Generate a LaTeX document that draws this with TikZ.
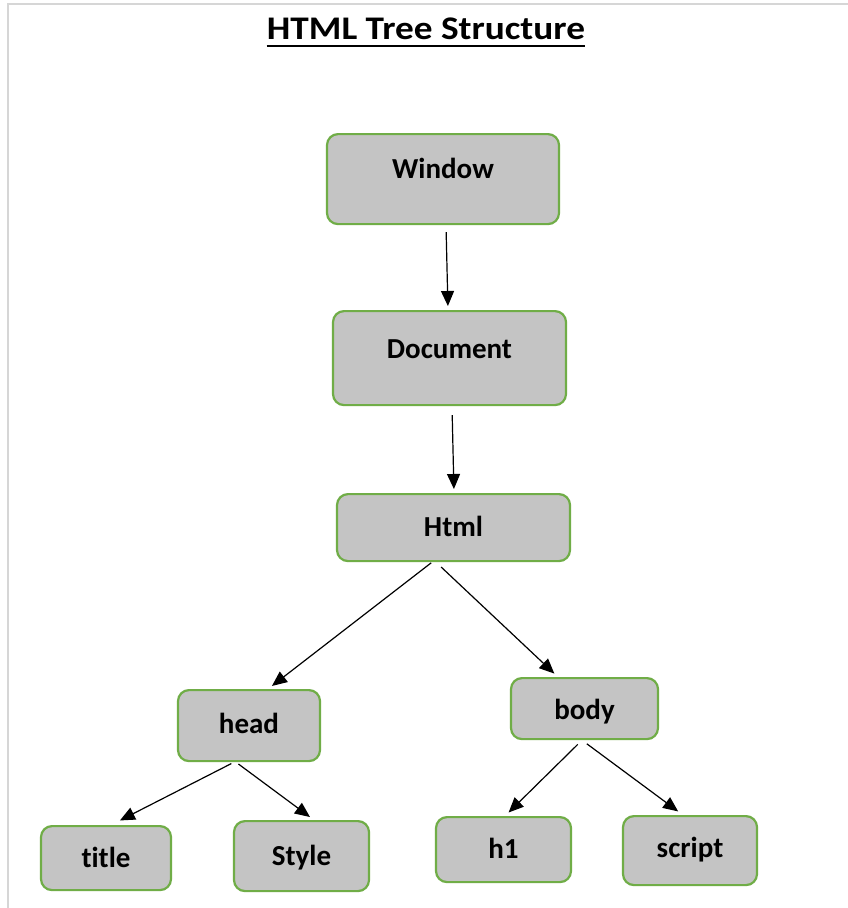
\documentclass[tikz,border=0pt]{standalone}
\usepackage{fontspec}
\setmainfont{Carlito}[Ligatures=NoCommon]
\usetikzlibrary{arrows.meta}
\definecolor{boxgreen}{RGB}{112,173,71}
\definecolor{boxgrey}{RGB}{196,196,196}
\definecolor{framegrey}{RGB}{214,214,214}
\pgfkeys{tikz/htmlbox/.style={draw=boxgreen,line width=2.2pt,fill=boxgrey,rounded corners=11pt,anchor=north,inner xsep=0pt,inner ysep=0pt,font=\fontsize{29}{32}\selectfont\bfseries}}
\pgfkeys{tikz/htmlarrow/.style={draw=black,line width=1.2pt,-{Triangle[length=15pt,width=13pt]}}}
% name, x, top, width, text height, text depth, text
\newcommand*\htmlnode[7]{\node [htmlbox,minimum width=#4pt,text height=#5pt,text depth=#6pt] (#1) at (#2,#3) {#7};}

\begin{document}
\begin{tikzpicture}[x=1pt,y=-1pt]
\useasboundingbox[fill=white] (0,0) rectangle (848,908);

% frame
\draw[framegrey,line width=1.5pt] (848,4) -- (8,4) -- (8,908);

% title
\node[font=\fontsize{33}{36}\selectfont\bfseries,anchor=base,inner sep=0pt] (title) at (426,39) {\scalebox{1.13}[1]{HTML Tree Structure}};
\draw[line width=2pt] ([yshift=-7pt]title.base west) -- ([yshift=-7pt]title.base east);

\htmlnode{win}{443}{133}{232}{44}{46}{Window}
\htmlnode{doc}{449.5}{310}{233}{47}{47}{Document}
\htmlnode{html}{453.5}{493}{233}{42}{25}{Html}
\htmlnode{head}{249}{689}{142}{43}{28}{head}
\htmlnode{body}{584.5}{677}{147}{41}{20}{body}
\htmlnode{ttl}{106}{825}{130}{41}{23}{title}
\htmlnode{style}{301.5}{820}{135}{44}{26}{Style}
\htmlnode{hone}{503.5}{816}{135}{41}{24}{h1}
\htmlnode{script}{690}{815}{134}{41}{28}{script}

% arrows
\draw[htmlarrow,shorten <=7pt,shorten >=4pt] ([xshift=3pt]win.south) -- ([xshift=-1.5pt]doc.north);
\draw[htmlarrow,shorten <=9pt,shorten >=4pt] ([xshift=2.5pt]doc.south) -- ([xshift=0.5pt]html.north);
\draw[htmlarrow,shorten <=1pt,shorten >=5pt] ([xshift=-21.5pt]html.south) -- ([xshift=19pt]head.north);
\draw[htmlarrow,shorten <=7pt,shorten >=5pt] ([xshift=-17.5pt]html.south) -- ([xshift=-26.5pt]body.north);
\draw[htmlarrow,shorten <=3pt,shorten >=10pt] ([xshift=-15pt]head.south) -- ([xshift=5pt]ttl.north);
\draw[htmlarrow,shorten <=3pt,shorten >=5pt] ([xshift=-13pt]head.south) -- ([xshift=12.5pt]style.north);
\draw[htmlarrow,shorten <=6pt,shorten >=5pt] ([xshift=-2.5pt]body.south) -- ([xshift=1.5pt]hone.north);
\draw[htmlarrow,shorten <=6pt,shorten >=6pt] ([xshift=-2.5pt]body.south) -- ([xshift=-7pt]script.north);

\end{tikzpicture}
\end{document}
